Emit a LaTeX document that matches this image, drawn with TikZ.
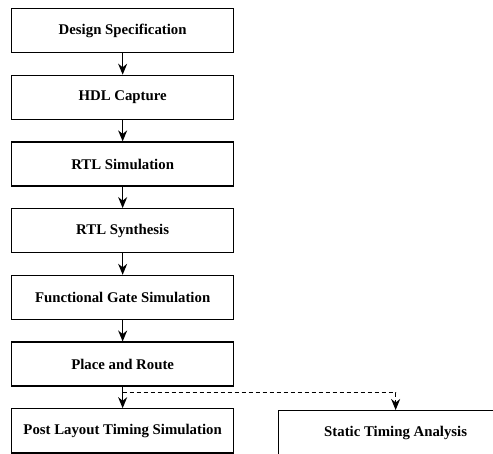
\documentclass[tikz,border=0pt]{standalone}
\usepackage{fontspec}
\setmainfont{Liberation Serif}
\usetikzlibrary{positioning,arrows.meta}

\tikzset{
  stepbox/.style={draw, line width=1.3pt, minimum width=222pt, minimum height=44pt,
    inner sep=0pt, font=\fontsize{14.8}{17}\selectfont\bfseries},
  flow/.style={line width=1.3pt, -{Stealth[length=11pt,width=9pt]}}
}

\begin{document}
\begin{tikzpicture}[node distance=21.4pt]
        % Frame
        \useasboundingbox (0,0) rectangle (493pt,-454pt);
        \clip (0,0) rectangle (493pt,-454pt);

        % Main flow boxes
        \node[stepbox, anchor=north west] (spec) at (11pt,-8pt) {Design Specification};
        \node[stepbox, below=of spec] (hdl) {HDL Capture};
        \node[stepbox, below=of hdl] (rtlsim) {RTL Simulation};
        \node[stepbox, below=of rtlsim] (synth) {RTL Synthesis};
        \node[stepbox, below=of synth] (gate) {Functional Gate Simulation};
        \node[stepbox, below=of gate] (par) {Place and Route};
        \node[stepbox, below=of par] (post) {Post Layout Timing Simulation};

        % Right box, cut off by the frame
        \node[stepbox, minimum width=234pt, anchor=north west] (sta) at (278pt,-410pt) {Static Timing Analysis};

        % Arrows between boxes
        \foreach \a/\b in {spec/hdl,hdl/rtlsim,rtlsim/synth,synth/gate,gate/par,par/post}{
            \draw[flow] (\a) -- (\b);
        }

        % Dashed branch to the timing analysis
        \coordinate (split) at ([yshift=-6pt]par.south);
        \draw[flow, line width=1pt, dash pattern=on 4pt off 3pt] (split) -| (sta.north);
\end{tikzpicture}
\end{document}
